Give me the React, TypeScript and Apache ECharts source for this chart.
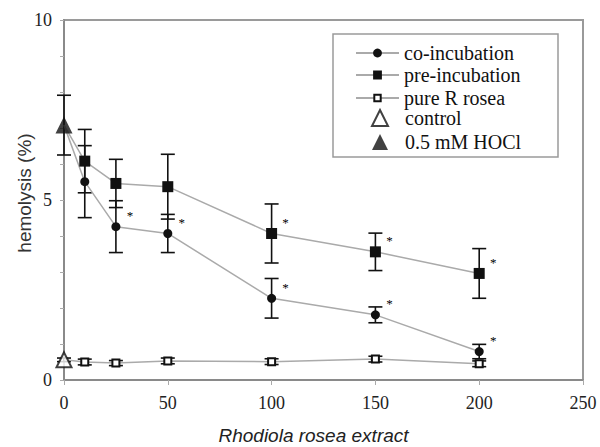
import React, { useEffect, useRef } from "react";
import * as echarts from "echarts";

// ---- data ----
const doses = [10, 25, 50, 100, 150, 200];
const coMean = [5.51, 4.26, 4.07, 2.27, 1.81, 0.79];
const coErr = [1.0, 0.72, 0.53, 0.55, 0.22, 0.2];
const preMean = [6.08, 5.46, 5.37, 4.07, 3.56, 2.96];
const preErr = [0.88, 0.67, 0.9, 0.82, 0.52, 0.69];
const pureMean = [0.5, 0.47, 0.53, 0.51, 0.58, 0.45];
const pureErr = [0.08, 0.07, 0.08, 0.08, 0.08, 0.08];
const hoclMean = 7.08;
const hoclErr = 0.83;
const controlMean = 0.56;
const controlErr = 0.05;
const coSignificant = [false, true, true, true, true, true];
const preSignificant = [false, false, false, true, true, true];
const xTicks = [0, 50, 100, 150, 200, 250];
const yLabelValues = [0, 5, 10];

const NAMES = {
  co: "co-incubation",
  pre: "pre-incubation",
  pure: "pure R rosea",
  control: "control",
  hocl: "0.5 mM HOCl",
};

const SERIF = "Liberation Serif";
const SANS = "Liberation Sans";

function lineData(start: number, means: number[]) {
  return [
    { value: [0, start], symbol: "none" },
    ...doses.map((d, i) => ({ value: [d, means[i]] })),
  ];
}

function errData(means: number[], errs: number[]) {
  return doses.map((d, i) => [d, means[i] - errs[i], means[i] + errs[i]]);
}

function starData(means: number[], flags: boolean[]) {
  const out: number[][] = [];
  doses.forEach((d, i) => {
    if (flags[i]) out.push([d, means[i]]);
  });
  return out;
}

const errorBarRender = (params: any, api: any) => {
  const x = api.value(0);
  const lo = api.coord([x, api.value(1)]);
  const hi = api.coord([x, api.value(2)]);
  const hw = 7;
  const style = { stroke: "#111", lineWidth: 1.6 };
  return {
    type: "group",
    children: [
      { type: "line", shape: { x1: lo[0], y1: lo[1], x2: hi[0], y2: hi[1] }, style },
      { type: "line", shape: { x1: lo[0] - hw, y1: lo[1], x2: lo[0] + hw, y2: lo[1] }, style },
      { type: "line", shape: { x1: hi[0] - hw, y1: hi[1], x2: hi[0] + hw, y2: hi[1] }, style },
    ],
  };
};

const starRender = (params: any, api: any) => {
  const p = api.coord([api.value(0), api.value(1)]);
  return {
    type: "text",
    x: p[0] + 14,
    y: p[1] - 11,
    style: {
      text: "*",
      fill: "#000",
      fontFamily: SERIF,
      fontSize: 13,
      align: "center",
      verticalAlign: "middle",
    },
  };
};

export default function App() {
  const ref = useRef<HTMLDivElement>(null);
  useEffect(() => {
    if (!ref.current) return;
    const chart = echarts.init(ref.current, null, { renderer: "svg" });
    const legendText = (extra: any = {}) => ({
      fontFamily: SERIF,
      fontSize: 20,
      color: "#111",
      lineHeight: 20,
      ...extra,
    });
    const errSeries = (data: number[][]) => ({
      type: "custom",
      renderItem: errorBarRender,
      data,
      encode: { x: 0, y: [1, 2] },
      z: 3,
      silent: true,
    });
    const starSeries = (data: number[][]) => ({
      type: "custom",
      renderItem: starRender,
      data,
      encode: { x: 0, y: 1 },
      z: 6,
      silent: true,
    });
    chart.setOption({
      animation: false,
      backgroundColor: "#fff",
      grid: {
        left: 64,
        right: 17,
        top: 20,
        bottom: 67,
        show: true,
        borderColor: "#9a9a9a",
        borderWidth: 2,
        containLabel: false,
        outerBoundsMode: "none",
      },
      xAxis: {
        type: "value",
        min: 0,
        max: 250,
        interval: 50,
        name: "Rhodiola rosea extract",
        nameLocation: "middle",
        nameGap: 46,
        nameMoveOverlap: false,
        nameTextStyle: {
          fontFamily: SANS,
          fontStyle: "italic",
          fontSize: 19,
          lineHeight: 19,
          color: "#222",
          padding: [0, 20, 0, 0],
        },
        axisLine: { lineStyle: { color: "#8a8a8a", width: 2 } },
        axisTick: { show: true, inside: false, length: 5, lineStyle: { color: "#aaa" } },
        axisLabel: {
          margin: 14,
          fontFamily: SERIF,
          fontSize: 18,
          color: "#222",
          formatter: (v: number) => (xTicks.includes(v) ? String(v) : ""),
        },
        splitLine: { show: false },
      },
      yAxis: {
        type: "value",
        min: 0,
        max: 10,
        interval: 1,
        name: "hemolysis (%)",
        nameLocation: "middle",
        nameGap: 30,
        nameMoveOverlap: false,
        nameTextStyle: {
          fontFamily: SANS,
          fontSize: 19,
          color: "#333",
          padding: [0, 0, 0, 14],
        },
        axisLine: { lineStyle: { color: "#8a8a8a", width: 2 } },
        axisTick: { show: true, inside: false, length: 4, lineStyle: { color: "#aaa" } },
        axisLabel: {
          margin: 12,
          fontFamily: SERIF,
          fontSize: 18,
          color: "#222",
          formatter: (v: number) => (yLabelValues.includes(v) ? String(v) : ""),
        },
        splitLine: { show: false },
      },
      legend: [
        {
          data: [NAMES.co, NAMES.pre],
          orient: "vertical",
          left: 355,
          top: 43,
          padding: 0,
          itemGap: 2,
          itemWidth: 43,
          itemHeight: 11,
          textStyle: legendText(),
          selectedMode: false,
        },
        {
          data: [NAMES.pure],
          orient: "vertical",
          left: 355,
          top: 88,
          padding: 0,
          itemWidth: 43,
          itemHeight: 8,
          textStyle: legendText(),
          selectedMode: false,
        },
        {
          data: [NAMES.control, NAMES.hocl],
          orient: "vertical",
          left: 371,
          top: 108,
          padding: 0,
          itemGap: 4,
          itemWidth: 16,
          itemHeight: 16,
          textStyle: legendText({ padding: [0, 0, 0, 12] }),
          selectedMode: false,
        },
      ],
      graphic: [
        {
          type: "rect",
          shape: { x: 333, y: 34, width: 225, height: 123 },
          style: { fill: "none", stroke: "#9a9a9a", lineWidth: 1.5 },
          z: 10,
          silent: true,
        },
      ],
      series: [
        errSeries(errData(coMean, coErr)),
        errSeries(errData(preMean, preErr)),
        errSeries(errData(pureMean, pureErr)),
        errSeries([[0, hoclMean - hoclErr, hoclMean + hoclErr]]),
        errSeries([[0, controlMean - controlErr, controlMean + controlErr]]),
        {
          name: NAMES.co,
          type: "line",
          data: lineData(hoclMean, coMean),
          symbol: "circle",
          symbolSize: 9,
          itemStyle: { color: "#111" },
          lineStyle: { color: "#aaa", width: 1.5 },
          z: 4,
        },
        {
          name: NAMES.pre,
          type: "line",
          data: lineData(hoclMean, preMean),
          symbol: "rect",
          symbolSize: 11,
          itemStyle: { color: "#111" },
          lineStyle: { color: "#aaa", width: 1.5 },
          z: 4,
        },
        {
          name: NAMES.pure,
          type: "line",
          data: lineData(controlMean, pureMean),
          symbol: "emptyRect",
          symbolSize: 7,
          itemStyle: { color: "#111", borderColor: "#111", borderWidth: 1.5 },
          lineStyle: { color: "#aaa", width: 1.5 },
          z: 4,
        },
        {
          name: NAMES.control,
          type: "scatter",
          data: [[0, controlMean]],
          symbol: "emptyTriangle",
          symbolSize: 15,
          itemStyle: { color: "#111", borderColor: "#111", borderWidth: 2 },
          z: 5,
        },
        {
          name: NAMES.hocl,
          type: "scatter",
          data: [[0, hoclMean]],
          symbol: "triangle",
          symbolSize: 17,
          itemStyle: { color: "#111" },
          z: 5,
        },
        starSeries(starData(coMean, coSignificant)),
        starSeries(starData(preMean, preSignificant)),
      ],
    });
    return () => chart.dispose();
  }, []);
  return (
    <div
      ref={ref}
      style={{ position: "fixed", left: 0, top: 0, width: 600, height: 447 }}
    />
  );
}
